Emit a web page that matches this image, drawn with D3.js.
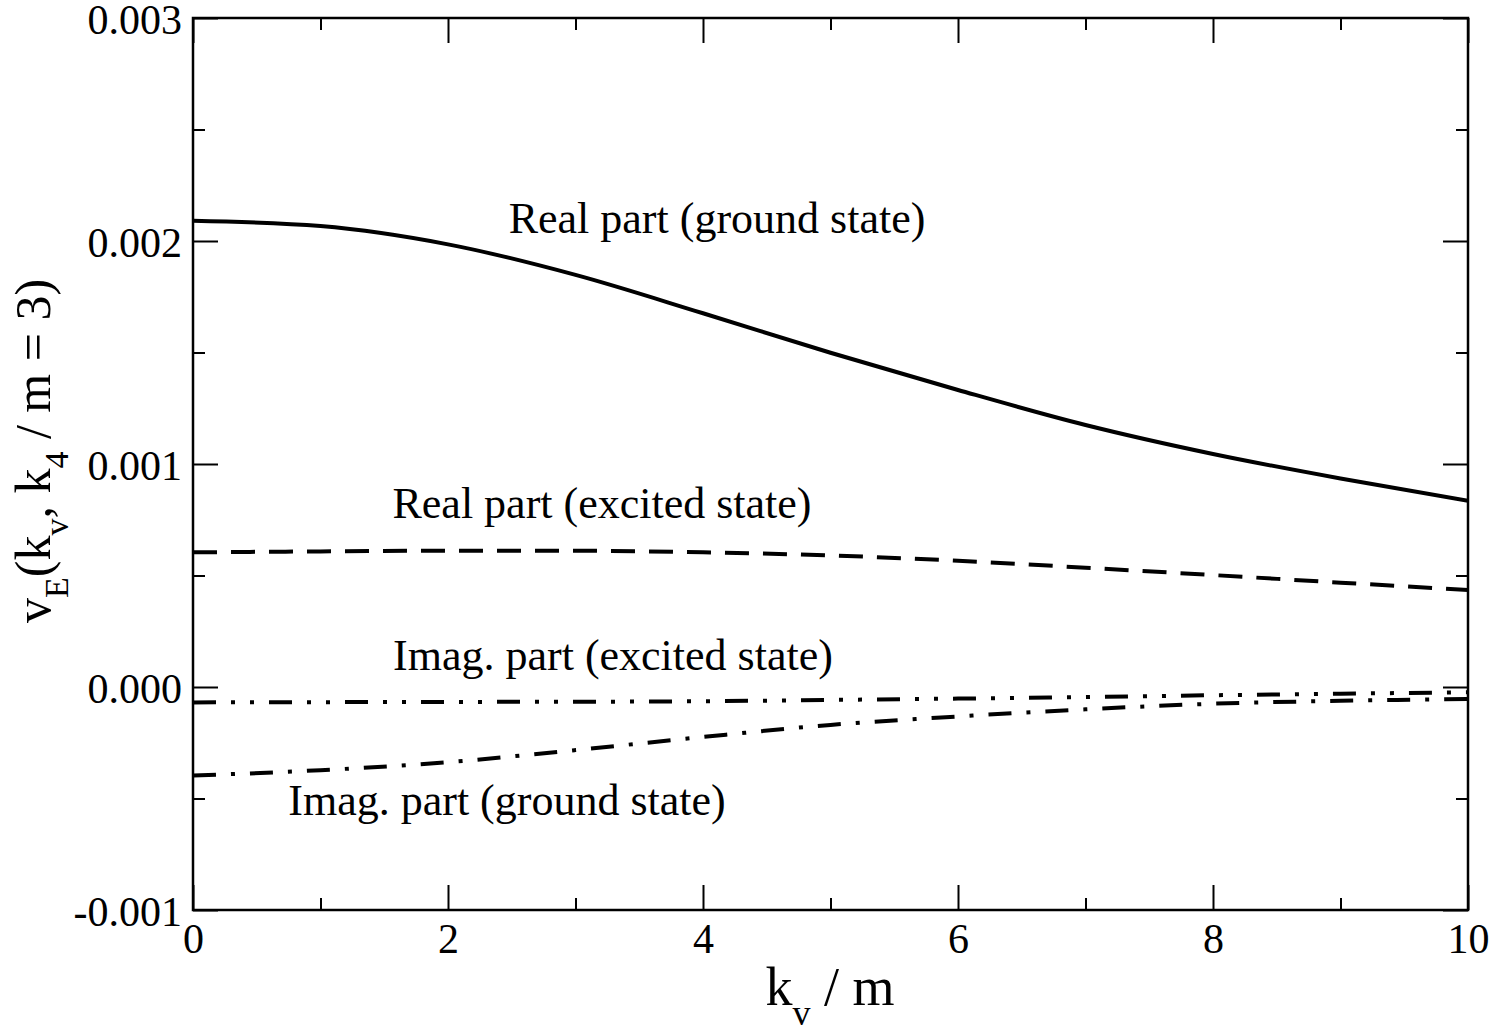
<!DOCTYPE html>
<html>
<head>
<meta charset="utf-8">
<script src="https://cdn.jsdelivr.net/npm/d3@7"></script>
<style>
  html, body { margin: 0; padding: 0; background: #fff; }
  svg { display: block; }
  text { font-family: "Liberation Serif", "Times New Roman", serif; fill: #000; }
</style>
</head>
<body>
<svg id="chart" width="1494" height="1032"></svg>
<script>
// ---- data ----
const kv = [0, 1, 2, 3, 4, 5, 6, 7, 8, 9, 10];
const realGround   = [0.002091, 0.002067, 0.001985, 0.001848, 0.001676, 0.001499, 0.001332, 0.001175, 0.001045, 0.000935, 0.000835];
const realExcited  = [0.000604, 0.000608, 0.000611, 0.000611, 0.000604, 0.000590, 0.000566, 0.000535, 0.000502, 0.000468, 0.000435];
const imagExcited  = [-0.000069, -0.000068, -0.000067, -0.000066, -0.000064, -0.000058, -0.000052, -0.000045, -0.000037, -0.000030, -0.000024];
const imagGround   = [-0.000397, -0.000373, -0.000337, -0.000283, -0.000224, -0.000170, -0.000132, -0.000100, -0.000075, -0.000062, -0.000054];

const xMajorTicks = [0, 2, 4, 6, 8, 10];
const xTickLabels = ["0", "2", "4", "6", "8", "10"];
const xMinorTicks = [1, 3, 5, 7, 9];
const yMajorTicks = [-0.001, 0, 0.001, 0.002, 0.003];
const yTickLabels = ["-0.001", "0.000", "0.001", "0.002", "0.003"];
const yMinorTicks = [-0.0005, 0.0005, 0.0015, 0.0025];

const seriesNames = ["Real part (ground state)", "Real part (excited state)", "Imag. part (excited state)", "Imag. part (ground state)"];

// ---- layout ----
const L = 193, R = 1468, T = 18, B = 910;
const svg = d3.select("#chart");
svg.append("rect").attr("width", 1494).attr("height", 1032).attr("fill", "#fff");

const x = d3.scaleLinear().domain([0, 10]).range([L, R]);
const y = d3.scaleLinear().domain([-0.001, 0.003]).range([B, T]);

const tickFont = 42;

function styleAxis(g) {
  g.select(".domain").remove();
  g.selectAll(".tick line").attr("stroke", "#000").attr("stroke-width", 2);
  g.selectAll(".tick text").style("font-size", tickFont + "px").attr("fill", "#000");
}

// major ticks
svg.append("g").attr("transform", `translate(0,${B})`)
  .call(d3.axisBottom(x).tickValues(xMajorTicks).tickSize(-25).tickPadding(13)
    .tickFormat((d, i) => xTickLabels[i]))
  .call(styleAxis);
svg.append("g").attr("transform", `translate(0,${T})`)
  .call(d3.axisTop(x).tickValues(xMajorTicks).tickSize(-25).tickFormat(""))
  .call(styleAxis);
svg.append("g").attr("transform", `translate(${L},0)`)
  .call(d3.axisLeft(y).tickValues(yMajorTicks).tickSize(-25).tickPadding(11)
    .tickFormat((d, i) => yTickLabels[i]))
  .call(styleAxis)
  .call(g => g.selectAll(".tick text").attr("dy", "0.36em"));
svg.append("g").attr("transform", `translate(${R},0)`)
  .call(d3.axisRight(y).tickValues(yMajorTicks).tickSize(-25).tickFormat(""))
  .call(styleAxis);

// minor ticks
svg.append("g").attr("transform", `translate(0,${B})`)
  .call(d3.axisBottom(x).tickValues(xMinorTicks).tickSize(-12).tickFormat(""))
  .call(styleAxis);
svg.append("g").attr("transform", `translate(0,${T})`)
  .call(d3.axisTop(x).tickValues(xMinorTicks).tickSize(-12).tickFormat(""))
  .call(styleAxis);
svg.append("g").attr("transform", `translate(${L},0)`)
  .call(d3.axisLeft(y).tickValues(yMinorTicks).tickSize(-12).tickFormat(""))
  .call(styleAxis);
svg.append("g").attr("transform", `translate(${R},0)`)
  .call(d3.axisRight(y).tickValues(yMinorTicks).tickSize(-12).tickFormat(""))
  .call(styleAxis);

// frame
svg.append("rect").attr("x", L).attr("y", T).attr("width", R - L).attr("height", B - T)
  .attr("fill", "none").attr("stroke", "#000").attr("stroke-width", 2.5);

// clip
svg.append("clipPath").attr("id", "clip").append("rect")
  .attr("x", L).attr("y", T).attr("width", R - L).attr("height", B - T);

const line = d3.line().x(d => x(d[0])).y(d => y(d[1])).curve(d3.curveMonotoneX);
const series = [
  { vals: realGround, dash: null },
  { vals: realExcited, dash: "24,14" },
  { vals: imagExcited, dash: "23,15,4,15,4,15" },
  { vals: imagGround, dash: "23,15,4,15" }
];
const lines = svg.append("g").attr("clip-path", "url(#clip)");
series.forEach(s => {
  lines.append("path")
    .datum(kv.map((k, i) => [k, s.vals[i]]))
    .attr("d", line)
    .attr("fill", "none")
    .attr("stroke", "#000")
    .attr("stroke-width", 4)
    .attr("stroke-dasharray", s.dash);
});

// annotations
const annFont = 44;
const annPos = [
  { cx: 717, by: 233 },
  { cx: 602, by: 518 },
  { cx: 613, by: 670 },
  { cx: 507, by: 815 }
];
seriesNames.forEach((name, i) => {
  svg.append("text")
    .attr("x", annPos[i].cx).attr("y", annPos[i].by)
    .attr("text-anchor", "middle")
    .style("font-size", annFont + "px")
    .text(name);
});

// x axis title: k_v / m
const xt = svg.append("text").attr("x", 830).attr("y", 1005).attr("text-anchor", "middle")
  .style("font-size", "54px");
xt.append("tspan").text("k");
xt.append("tspan").attr("dy", 20).style("font-size", "36px").text("v");
xt.append("tspan").attr("dy", -20).text(" / m");

// y axis title: v_E(k_v, k_4 / m = 3)
const yt = svg.append("text").attr("transform", "translate(50,451) rotate(-90)")
  .attr("text-anchor", "middle").style("font-size", "50px");
yt.append("tspan").text("v");
yt.append("tspan").attr("dy", 18).style("font-size", "34px").text("E");
yt.append("tspan").attr("dy", -18).text("(k");
yt.append("tspan").attr("dy", 18).style("font-size", "34px").text("v");
yt.append("tspan").attr("dy", -18).text(", k");
yt.append("tspan").attr("dy", 18).style("font-size", "34px").text("4");
yt.append("tspan").attr("dy", -18).text(" / m = 3)");
</script>
</body>
</html>
